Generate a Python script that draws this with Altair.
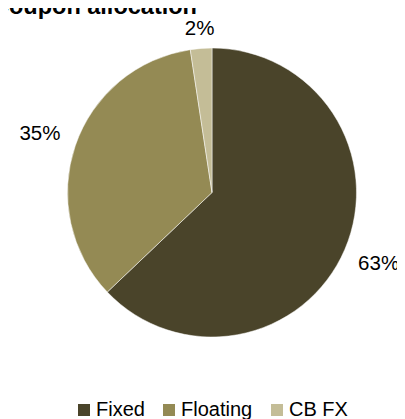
import altair as alt
import pandas as pd

title_text = "Coupon allocation"
categories = ["Fixed", "Floating", "CB FX"]
shares = [62.9, 34.7, 2.4]
colors = ["#4a442a", "#948a54", "#c4bd97"]

df = pd.DataFrame({"category": categories, "share": shares, "idx": list(range(len(categories)))})

CX, CY, R = 204, 178.5, 144.5

base = alt.Chart(df).transform_window(
    cum="sum(share)", sort=[alt.SortField("idx")], frame=[None, 0]
).transform_joinaggregate(total="sum(share)").transform_calculate(
    mid="(datum.cum - datum.share/2)/datum.total*2*PI",
    label="format(datum.share/datum.total, '.0%')",
).transform_calculate(
    label_r="162 + 21*abs(sin(datum.mid))"
)

color_enc = alt.Color(
    "category:N",
    scale=alt.Scale(domain=categories, range=colors),
    sort=categories,
    legend=alt.Legend(
        title=None,
        orient="none",
        direction="horizontal",
        legendX=66,
        legendY=386,
        symbolType="square",
        symbolSize=144,
        symbolStrokeWidth=0,
        labelFont="Liberation Sans",
        labelFontSize=20,
        labelColor="#000000",
        labelOffset=2,
        columnPadding=14,
        padding=0,
    ),
)

pie = base.mark_arc(radius=R, stroke="#ffffff", strokeWidth=0.5).encode(
    theta=alt.Theta("share:Q", stack=True),
    order=alt.Order("idx:Q"),
    color=color_enc,
    x=alt.value(CX),
    y=alt.value(CY),
)

labels = base.mark_text(font="Liberation Sans", fontSize=20.5, color="#000000").encode(
    theta=alt.Theta("mid:Q", scale=None, stack=None),
    radius=alt.Radius("label_r:Q", scale=None),
    text="label:N",
    x=alt.value(CX),
    y=alt.value(CY),
)

title_df = pd.DataFrame({"t": [title_text]})
title = alt.Chart(title_df).mark_text(
    font="Liberation Sans", fontSize=23.5, fontWeight="bold", color="#000000",
    align="left", baseline="alphabetic",
).encode(text="t:N", x=alt.value(-16), y=alt.value(0))

chart = alt.layer(pie, labels, title).properties(
    width=389,
    height=405,
    autosize=alt.AutoSizeParams(type="none"),
    padding={"left": 0, "top": 6, "right": 0, "bottom": 0},
).configure_view(stroke=None)

chart.save("out.html", embed_options={"renderer": "svg", "actions": False})
